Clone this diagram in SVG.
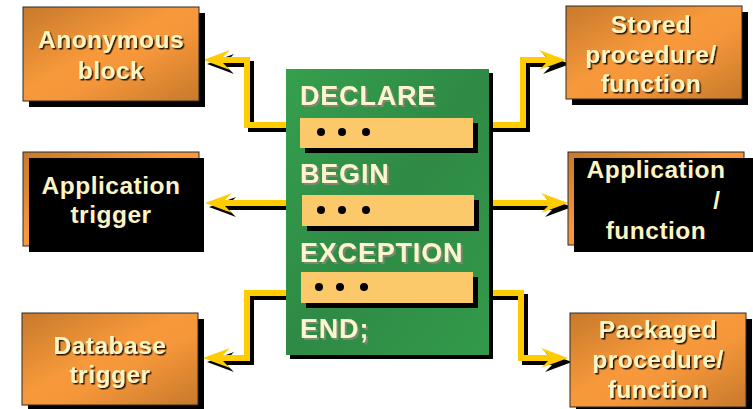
<svg xmlns="http://www.w3.org/2000/svg" width="753" height="409" viewBox="0 0 753 409">
  <defs>
    <linearGradient id="orange" x1="0" y1="0" x2="1" y2="1">
      <stop offset="0" stop-color="#c7792b"/>
      <stop offset="0.45" stop-color="#f7993b"/>
      <stop offset="0.6" stop-color="#f5963a"/>
      <stop offset="1" stop-color="#c7792b"/>
    </linearGradient>
    <linearGradient id="green" x1="0" y1="0" x2="1" y2="1">
      <stop offset="0" stop-color="#35a04d"/>
      <stop offset="0.5" stop-color="#2e8a45"/>
      <stop offset="1" stop-color="#339a4a"/>
    </linearGradient>
    <filter id="darkShadow" x="-10%" y="-10%" width="120%" height="130%">
      <feDropShadow dx="1.5" dy="1.5" stdDeviation="0" flood-color="#2a1800"/>
    </filter>
    <filter id="greyShadow" x="-10%" y="-10%" width="120%" height="130%">
      <feDropShadow dx="2" dy="2" stdDeviation="0" flood-color="#7a8a70"/>
    </filter>
    <!-- left-pointing arrowhead, tip at origin -->
    <path id="headL" d="M0,0 L27,-10 L20,-3 L32,-3 L32,3 L20,3 L27,10 Z"/>
  </defs>
  <style>
    .box { fill: url(#orange); stroke: #2a2a2a; stroke-width: 1; }
    .shadow { fill: #000; }
    .lbl { font-family: "Liberation Sans", Arial, sans-serif; font-weight: bold; font-size: 24.5px; letter-spacing: 0.5px; fill: #fcf4c2; text-anchor: middle; }
    .lbl.sh { filter: url(#darkShadow); }
    .kw { font-family: "Liberation Sans", Arial, sans-serif; font-weight: bold; font-size: 27px; letter-spacing: 0.8px; fill: #fcf6cf; filter: url(#greyShadow); }
    .slot { fill: #fcc96a; }
    .dot { fill: #000; }
    .wire { fill: none; stroke-width: 6; stroke-linejoin: miter; }
    .wire.y { stroke: #ffcc00; }
    .wire.k { stroke: #000; }
    .head.y { fill: #ffcc00; }
    .head.k { fill: #000; }
  </style>

  <!-- connectors: black offset copy first, yellow on top -->
  <g id="connectors">
    <g transform="translate(4,4)">
      <path class="wire k" d="M289,125 H247 V60 H226"/>
      <use href="#headL" class="head k" transform="translate(203,60)"/>
      <path class="wire k" d="M289,203 H226"/>
      <use href="#headL" class="head k" transform="translate(205,203)"/>
      <path class="wire k" d="M289,293 H247 V358 H226"/>
      <use href="#headL" class="head k" transform="translate(203,358)"/>
      <path class="wire k" d="M486,125 H523 V60 H543"/>
      <use href="#headL" class="head k" transform="translate(566,60) scale(-1,1)"/>
      <path class="wire k" d="M486,203 H545"/>
      <use href="#headL" class="head k" transform="translate(568,203) scale(-1,1)"/>
      <path class="wire k" d="M486,293 H521 V358 H545"/>
      <use href="#headL" class="head k" transform="translate(568,358) scale(-1,1)"/>
    </g>
    <path class="wire y" d="M289,125 H247 V60 H226"/>
    <use href="#headL" class="head y" transform="translate(203,60)"/>
    <path class="wire y" d="M289,203 H226"/>
    <use href="#headL" class="head y" transform="translate(205,203)"/>
    <path class="wire y" d="M289,293 H247 V358 H226"/>
    <use href="#headL" class="head y" transform="translate(203,358)"/>
    <path class="wire y" d="M486,125 H523 V60 H543"/>
    <use href="#headL" class="head y" transform="translate(566,60) scale(-1,1)"/>
    <path class="wire y" d="M486,203 H545"/>
    <use href="#headL" class="head y" transform="translate(568,203) scale(-1,1)"/>
    <path class="wire y" d="M486,293 H521 V358 H545"/>
    <use href="#headL" class="head y" transform="translate(568,358) scale(-1,1)"/>
  </g>

  <!-- central PL/SQL block -->
  <g id="plsql-block">
    <rect class="shadow" x="290" y="73" width="203" height="286"/>
    <rect x="286" y="69" width="203" height="286" fill="url(#green)"/>
    <text class="kw" x="300" y="105">DECLARE</text>
    <rect class="shadow" x="305" y="123" width="173" height="30"/>
    <rect class="slot" x="300" y="118" width="173" height="30"/>
    <circle class="dot" cx="321" cy="132" r="4"/>
    <circle class="dot" cx="342" cy="132" r="4"/>
    <circle class="dot" cx="366" cy="132" r="4"/>
    <text class="kw" x="300" y="183">BEGIN</text>
    <rect class="shadow" x="307" y="200" width="172" height="31"/>
    <rect class="slot" x="302" y="195" width="172" height="31"/>
    <circle class="dot" cx="321" cy="210" r="4"/>
    <circle class="dot" cx="342" cy="210" r="4"/>
    <circle class="dot" cx="366" cy="210" r="4"/>
    <text class="kw" x="300" y="262">EXCEPTION</text>
    <rect class="shadow" x="306" y="277" width="172" height="31"/>
    <rect class="slot" x="301" y="272" width="172" height="31"/>
    <circle class="dot" cx="319" cy="287" r="4"/>
    <circle class="dot" cx="340" cy="287" r="4"/>
    <circle class="dot" cx="364" cy="287" r="4"/>
    <text class="kw" x="300" y="338">END;</text>
  </g>

  <g id="anonymous-block">
    <rect class="shadow" x="29" y="13" width="176" height="94"/>
    <rect class="box" x="23" y="7" width="176" height="94"/>
    <text class="lbl sh" x="111" y="48">Anonymous</text>
    <text class="lbl sh" x="111" y="79">block</text>
  </g>

  <g id="application-trigger">
    <rect class="box" x="23" y="152" width="176" height="94"/>
    <rect class="shadow" x="29" y="158" width="175" height="94"/>
    <text class="lbl" x="111" y="194">Application</text>
    <text class="lbl" x="111" y="223">trigger</text>
  </g>

  <g id="database-trigger">
    <rect class="shadow" x="28" y="319" width="176" height="92"/>
    <rect class="box" x="22" y="313" width="176" height="92"/>
    <text class="lbl sh" x="110" y="354">Database</text>
    <text class="lbl sh" x="110" y="383">trigger</text>
  </g>

  <g id="stored-procedure">
    <rect class="shadow" x="572" y="12" width="176" height="93"/>
    <rect class="box" x="566" y="6" width="176" height="93"/>
    <text class="lbl sh" x="651" y="33">Stored</text>
    <text class="lbl sh" x="651" y="63">procedure/</text>
    <text class="lbl sh" x="651" y="92">function</text>
  </g>

  <g id="application-function">
    <rect class="box" x="568" y="152" width="176" height="93"/>
    <rect class="shadow" x="574" y="158" width="179" height="94"/>
    <text class="lbl" x="656" y="178">Application</text>
    <text class="lbl" x="717" y="209">/</text>
    <text class="lbl" x="656" y="239">function</text>
  </g>

  <g id="packaged-procedure">
    <rect class="shadow" x="576" y="319" width="176" height="94"/>
    <rect class="box" x="570" y="313" width="176" height="94"/>
    <text class="lbl sh" x="658" y="338">Packaged</text>
    <text class="lbl sh" x="658" y="368">procedure/</text>
    <text class="lbl sh" x="658" y="398">function</text>
  </g>
</svg>
